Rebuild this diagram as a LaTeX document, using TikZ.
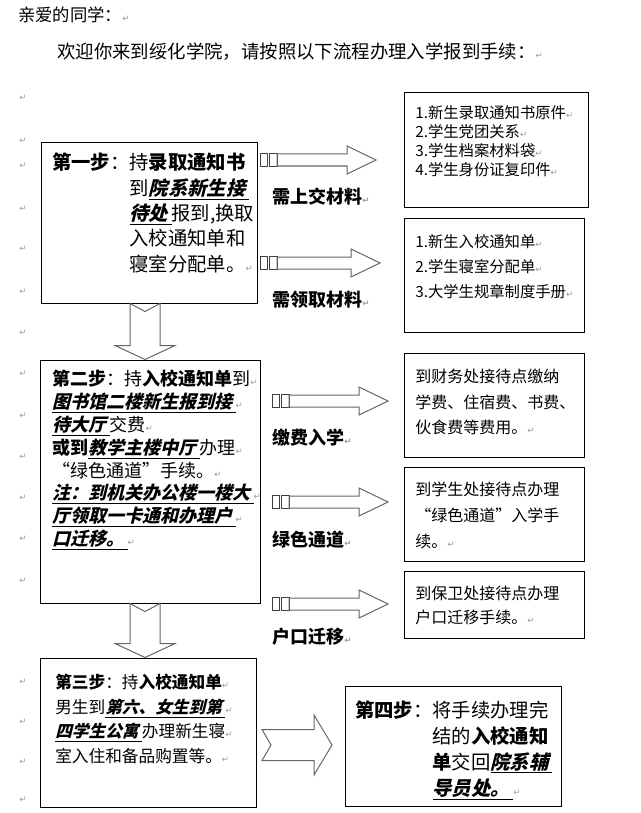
\documentclass[tikz,border=0pt]{standalone}
\usepackage{fontspec}
\setmainfont{Noto Sans CJK SC}
\newfontfamily\slantfont{Noto Sans CJK SC}[FakeSlant=0.25]
\newfontfamily\markfont{DejaVu Sans}
\usetikzlibrary{calc,fit}
\newcommand{\pmark}{{\markfont\fontsize{6.5}{6.5}\selectfont\textcolor{black!40}{↵}}}
\newcommand{\hot}[1]{\underline{{\slantfont\bfseries #1}\kern2.5pt}}
% arrow to the right with the two box glyphs in front
\newcommand{\sidearrow}[2]{%
  \draw[glyphbox] ($(#1)+(0,-7)$) rectangle ($(#1)+(7,6)$)
                  ($(#1)+(9,-7)$) rectangle ($(#1)+(17,6)$);
  \draw[blockarrow] ($(#1)+(17,-6)$) -- ($(#2)+(-29,-6)$) -- ($(#2)+(-29,-14)$) -- (#2)
    -- ($(#2)+(-29,14)$) -- ($(#2)+(-29,6)$) -- ($(#1)+(17,6)$) -- cycle;}
% notched arrow downwards
\newcommand{\notchdown}[2]{%
  \draw[blockarrow] ($(#1)+(-15,0)$) -- ($(#1)+(0,8)$) -- ($(#1)+(15,0)$) -- ($(#2)+(15,-14)$)
    -- ($(#2)+(30,-14)$) -- (#2) -- ($(#2)+(-30,-14)$) -- ($(#2)+(-15,-14)$) -- cycle;}

\begin{document}
\begin{tikzpicture}[x=0.75pt,y=-0.75pt,
    box/.style={draw=black,line width=0.75pt,inner sep=0pt},
    txt/.style={anchor=north west,inner sep=0pt,align=left},
    lab/.style={anchor=west,inner sep=0pt,font=\fontsize{13.5}{16}\selectfont\bfseries},
    blockarrow/.style={draw=black!60,line width=0.75pt},
    glyphbox/.style={draw=black!75,line width=0.6pt},
    retmark/.style={inner sep=0pt}]
  \useasboundingbox (0,0) rectangle (640,813);

  \node[anchor=west,inner sep=0pt,font=\fontsize{13}{15}\selectfont] (greeting) at (18,15) {亲爱的同学：\pmark};
  \node[anchor=west,inner sep=0pt,font=\fontsize{13.8}{16}\selectfont] (welcome) at (57,52)
    {欢迎你来到绥化学院，请按照以下流程办理入学报到手续：\pmark};

  \foreach \y in {98,141,166,209,249,292,333,374,416,457,498,539,581,682,722,762,800}
    \node[retmark] (margin\y) at (23,\y) {\pmark};

  % steps
  \node[box,fit={(41,143) (257,303)}] (step1) {};
  \node[box,fit={(40,360) (260,603)}] (step2) {};
  \node[box,fit={(40,658) (256,807)}] (step3) {};
  \node[box,fit={(345,686) (561,806)}] (step4) {};

  \node[txt,font=\fontsize{14.5}{19}\selectfont] (step1text) at (52,153) {%
    \textbf{第一步}：持\textbf{录取通知书}\\
    \phantom{\textbf{第一步}：}到\hot{院系新生接}\\
    \phantom{\textbf{第一步}：}\hot{待处}报到,换取\\
    \phantom{\textbf{第一步}：}入校通知单和\\
    \phantom{\textbf{第一步}：}寝室分配单。\pmark};
  \node[txt,font=\fontsize{13.5}{17.1}\selectfont] (step2text) at (52,370) {%
    \textbf{第二步}：持\textbf{入校通知单}到\pmark\\
    \hot{图书馆二楼新生报到接}\pmark\\
    \hot{待大厅}交费\pmark\\
    \textbf{或到}\hot{教学主楼中厅}办理\pmark\\
    “绿色通道”手续。\pmark\\
    \hot{注：到机关办公楼一楼大}\pmark\\
    \hot{厅领取一卡通和办理户}\pmark\\
    \hot{口迁移。}\pmark};
  \node[txt,font=\fontsize{12.5}{18.4}\selectfont] (step3text) at (55,674) {%
    \textbf{第三步}：持\textbf{入校通知单}\pmark\\
    男生到\hot{第六、女生到第}\pmark\\
    \hot{四学生公寓}办理新生寝\pmark\\
    室入住和备品购置等。\pmark};
  \node[txt,font=\fontsize{14.5}{19.5}\selectfont] (step4text) at (355,700) {%
    \textbf{第四步}：将手续办理完\\
    \phantom{\textbf{第四步}：}结的\textbf{入校通知}\\
    \phantom{\textbf{第四步}：}\textbf{单}交回\hot{院系辅}\\
    \phantom{\textbf{第四步}：}\hot{导员处。}\pmark};

  % offices on the right
  \node[box,fit={(404,93) (588,207)}] (handin) {};
  \node[box,fit={(404,218) (584,332)}] (fetch) {};
  \node[box,fit={(404,353) (584,457)}] (pay) {};
  \node[box,fit={(404,467) (584,561)}] (green) {};
  \node[box,fit={(404,571) (584,638)}] (hukou) {};

  \node[txt,font=\fontsize{11.5}{14.3}\selectfont] (handintext) at (415,105) {%
    1.新生录取通知书原件\pmark\\
    2.学生党团关系\pmark\\
    3.学生档案材料袋\pmark\\
    4.学生身份证复印件\pmark};
  \node[txt,font=\fontsize{11.5}{18.75}\selectfont] (fetchtext) at (415,234) {%
    1.新生入校通知单\pmark\\
    2.学生寝室分配单\pmark\\
    3.大学生规章制度手册\pmark};
  \node[txt,font=\fontsize{12}{19}\selectfont] (paytext) at (415,369) {%
    到财务处接待点缴纳\\
    学费、住宿费、书费、\\
    伙食费等费用。\pmark};
  \node[txt,font=\fontsize{12}{19.5}\selectfont] (greentext) at (415,482) {%
    到学生处接待点办理\\
    “绿色通道”入学手\\
    续。\pmark};
  \node[txt,font=\fontsize{12}{18}\selectfont] (hukoutext) at (415,586) {%
    到保卫处接待点办理\\
    户口迁移手续。\pmark};

  \node[lab] (handinlab) at (272,197) {需上交材料\pmark};
  \node[lab] (fetchlab) at (272,300) {需领取材料\pmark};
  \node[lab] (paylab) at (272,438) {缴费入学\pmark};
  \node[lab] (greenlab) at (272,540) {绿色通道\pmark};
  \node[lab] (hukoulab) at (272,637) {户口迁移\pmark};

  % arrows
  \coordinate (a1) at (260,160); \coordinate (a1tip) at (376,160);
  \coordinate (a2) at (260,263); \coordinate (a2tip) at (380,263);
  \coordinate (a3) at (272,401); \coordinate (a3tip) at (388,401);
  \coordinate (a4) at (272,502); \coordinate (a4tip) at (388,502);
  \coordinate (a5) at (272,604); \coordinate (a5tip) at (388,604);
  \sidearrow{a1}{a1tip}
  \sidearrow{a2}{a2tip}
  \sidearrow{a3}{a3tip}
  \sidearrow{a4}{a4tip}
  \sidearrow{a5}{a5tip}

  \coordinate (axis) at (145,0);
  \coordinate (d1) at (step1.south -| axis); \coordinate (d1tip) at (step2.north -| axis);
  \coordinate (d2) at (step2.south -| axis); \coordinate (d2tip) at (step3.north -| axis);
  \notchdown{d1}{d1tip}
  \notchdown{d2}{d2tip}

  \coordinate (g1) at (262,745); \coordinate (g2) at (332,745);
  \draw[blockarrow] ($(g1)+(0,-15.5)$) -- ($(g2)+(-18,-15.5)$) -- ($(g2)+(-18,-30)$) -- (g2)
    -- ($(g2)+(-18,30)$) -- ($(g2)+(-18,15.5)$) -- ($(g1)+(0,15.5)$) -- ($(g1)+(9,0)$) -- cycle;
\end{tikzpicture}
\end{document}
